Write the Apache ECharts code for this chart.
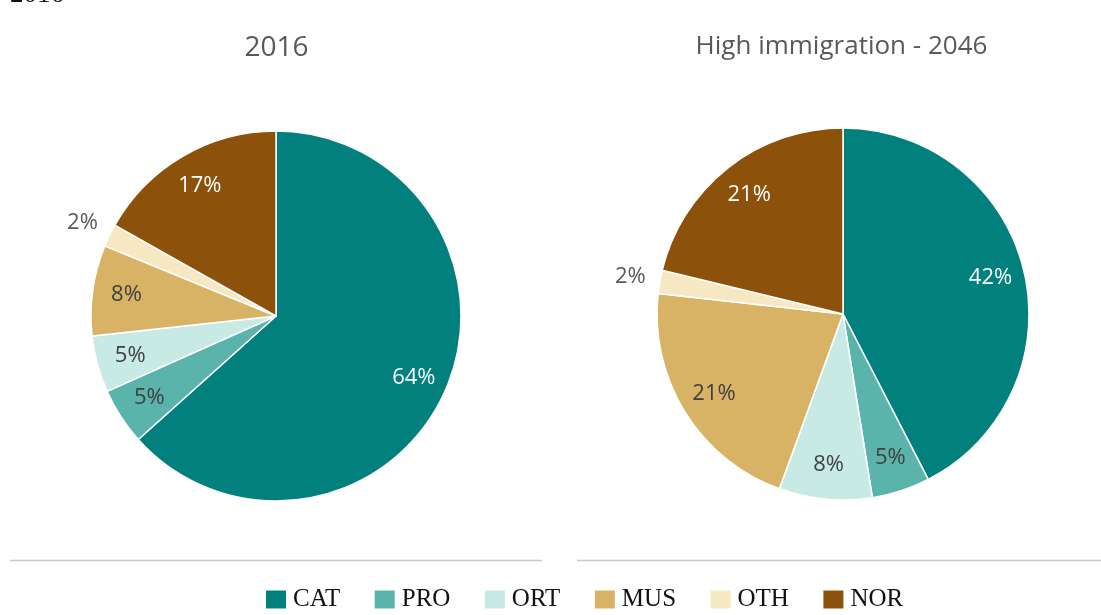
<!DOCTYPE html>
<html>
<head>
<meta charset="utf-8">
<title>Population by group: 2016 and High immigration - 2046</title>
<script src="https://cdn.jsdelivr.net/npm/echarts@6/dist/echarts.min.js"></script>
<style>
  html, body { margin: 0; padding: 0; background: #ffffff; }
  #chart { width: 1101px; height: 615px; }
</style>
</head>
<body>
<div id="chart"></div>
<script>
// Groups shown in both pies (legend order)
const categories = ['CAT', 'PRO', 'ORT', 'MUS', 'OTH', 'NOR'];
// Shares in percent
const values2016 = [64, 5, 5, 8, 2, 17];
const valuesHigh2046 = [42, 5, 8, 21, 2, 21];
// Pie titles
const pieTitles = ['2016', 'High immigration - 2046'];

const sliceColors = ['#01807e', '#5ab4ac', '#c7eae5', '#d8b365', '#f6e8c3', '#8c510a'];
const labelColors = ['#ffffff', '#404040', '#404040', '#404040', '#595959', '#ffffff'];
const OUTSIDE_LABEL = 'OTH';
const LABEL_FONT = '"Open Sans", "Noto Sans", sans-serif';

function pieSeries(values, center, R) {
  const base = {
    type: 'pie',
    center: center,
    startAngle: 90,
    clockwise: true,
    avoidLabelOverlap: false,
    labelLine: { show: false },
    emphasis: { disabled: true },
    animation: false
  };
  const slices = {
    ...base,
    radius: [0, R],
    label: { show: false },
    itemStyle: { borderColor: '#ffffff', borderWidth: 1.5 },
    data: categories.map((name, i) => ({
      name, value: values[i], itemStyle: { color: sliceColors[i] }
    }))
  };
  // transparent ring carrying the in-slice percentage labels
  const innerLabels = {
    ...base,
    radius: [R * 0.6, R],
    silent: true,
    legendHoverLink: false,
    itemStyle: { color: 'rgba(0,0,0,0)' },
    data: categories.map((name, i) => ({
      name, value: values[i],
      label: {
        show: name !== OUTSIDE_LABEL,
        position: 'inside',
        formatter: '{c}%',
        color: labelColors[i],
        fontFamily: LABEL_FONT,
        fontSize: 22
      }
    }))
  };
  // transparent ring outside the pie for the thin slice's label
  const outerLabels = {
    ...base,
    radius: [R, R + 54],
    silent: true,
    legendHoverLink: false,
    itemStyle: { color: 'rgba(0,0,0,0)' },
    data: categories.map((name, i) => ({
      name, value: values[i],
      label: {
        show: name === OUTSIDE_LABEL,
        position: 'inside',
        formatter: '{c}%',
        color: labelColors[i],
        fontFamily: LABEL_FONT,
        fontSize: 22
      }
    }))
  };
  return [slices, innerLabels, outerLabels];
}

const chart = echarts.init(document.getElementById('chart'), null, { renderer: 'canvas' });

chart.setOption({
  backgroundColor: '#ffffff',
  animation: false,
  color: sliceColors,
  legend: {
    data: categories,
    left: 264,
    top: 587,
    padding: 0,
    icon: 'rect',
    itemWidth: 22,
    itemHeight: 20,
    itemGap: 32.5,
    selectedMode: false,
    textStyle: {
      fontFamily: '"Liberation Serif", "DejaVu Serif", serif',
      fontSize: 25,
      color: '#111111',
      padding: [0, 0, 0, 1]
    }
  },
  graphic: [
    // heading cut off by the top edge
    { type: 'text', left: 10, top: -19, silent: true,
      style: { text: '2016', font: '27px "Liberation Serif", serif', fill: '#111111' } },
    { type: 'text', x: 276.5, y: 48, silent: true,
      style: { text: pieTitles[0], font: '28px "Open Sans", sans-serif', fill: '#595959',
               align: 'center', verticalAlign: 'middle' } },
    { type: 'text', x: 841.5, y: 47, silent: true,
      style: { text: pieTitles[1], font: '26px "Open Sans", sans-serif', fill: '#595959',
               align: 'center', verticalAlign: 'middle' } },
    // divider rules under each pie
    { type: 'line', silent: true, shape: { x1: 10, y1: 560.5, x2: 542, y2: 560.5 },
      style: { stroke: '#c8c8c8', lineWidth: 1.5 } },
    { type: 'line', silent: true, shape: { x1: 577, y1: 560.5, x2: 1101, y2: 560.5 },
      style: { stroke: '#c8c8c8', lineWidth: 1.5 } }
  ],
  series: [
    ...pieSeries(values2016, [276, 316], 185),
    ...pieSeries(valuesHigh2046, [843, 314], 186)
  ]
});
</script>
</body>
</html>
